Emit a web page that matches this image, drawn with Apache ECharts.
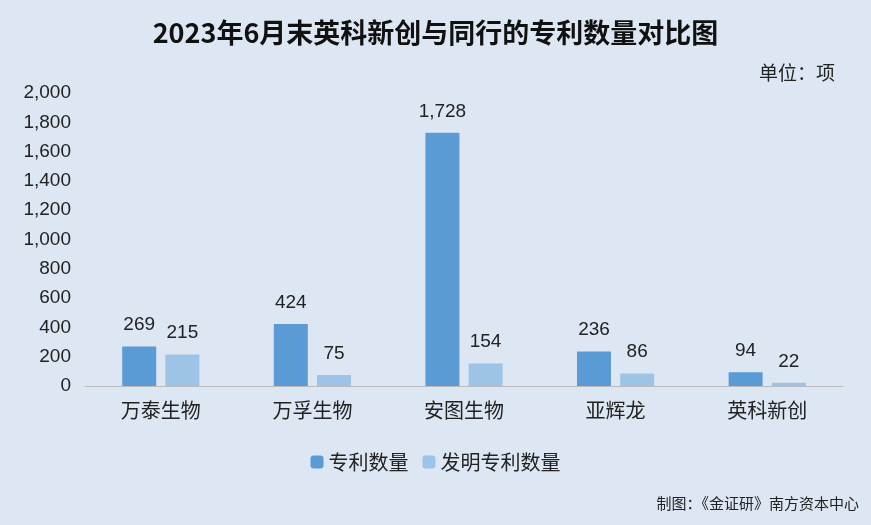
<!DOCTYPE html>
<html><head><meta charset="utf-8">
<script src="https://cdn.jsdelivr.net/npm/echarts@6/dist/echarts.min.js"></script>
<style>html,body{margin:0;padding:0;background:#dde7f3;}#c{width:871px;height:525px;}</style>
</head><body><div id="c"></div>
<script>
const categories = ['万泰生物','万孚生物','安图生物','亚辉龙','英科新创'];
const patents = [269, 424, 1728, 236, 94];
const inventionPatents = [215, 75, 154, 86, 22];
const yTicks = [0, 2000, 200];
const font = '"Noto Sans CJK SC", sans-serif';
const chart = echarts.init(document.getElementById('c'));
const lbl = {show:true, position:'top', distance:12, fontSize:19, color:'#222', fontFamily:'"Liberation Sans", Arial', formatter:p=>p.value.toLocaleString('en-US')};
chart.setOption({
  backgroundColor:'#dde7f3',
  title:{text:'2023年6月末英科新创与同行的专利数量对比图', left:'center', top:14,
    textStyle:{fontSize:27, fontWeight:'bold', color:'#111', fontFamily:font}},
  graphic:[
    {type:'text', right:36, top:63, style:{text:'单位：项', fontSize:19, fill:'#222', fontFamily:font}},
    {type:'text', right:12, top:496, style:{text:'制图：《金证研》南方资本中心', fontSize:15, fill:'#222', fontFamily:font}}
  ],
  legend:{bottom:48, left:'center', itemWidth:13, itemHeight:13, itemGap:14,
    textStyle:{fontSize:20, color:'#222', fontFamily:font}},
  grid:{left:85, right:28, top:93, bottom:139},
  xAxis:{type:'category', data:categories,
    axisLine:{lineStyle:{color:'#bbb'}}, axisTick:{show:false},
    axisLabel:{fontSize:20, color:'#222', margin:14, fontFamily:font}},
  yAxis:{type:'value', min:yTicks[0], max:yTicks[1], interval:yTicks[2],
    splitLine:{show:false}, axisLine:{show:false},
    axisLabel:{fontSize:19, color:'#222', margin:14, fontFamily:'"Liberation Sans", Arial', formatter:v=>v.toLocaleString('en-US')}},
  series:[
    {name:'专利数量', type:'bar', data:patents, barWidth:34, barGap:'27%', itemStyle:{color:'#5b9bd5'}, label:lbl},
    {name:'发明专利数量', type:'bar', data:inventionPatents, barWidth:34, itemStyle:{color:'#9dc3e6'}, label:lbl}
  ]
});
</script></body></html>
